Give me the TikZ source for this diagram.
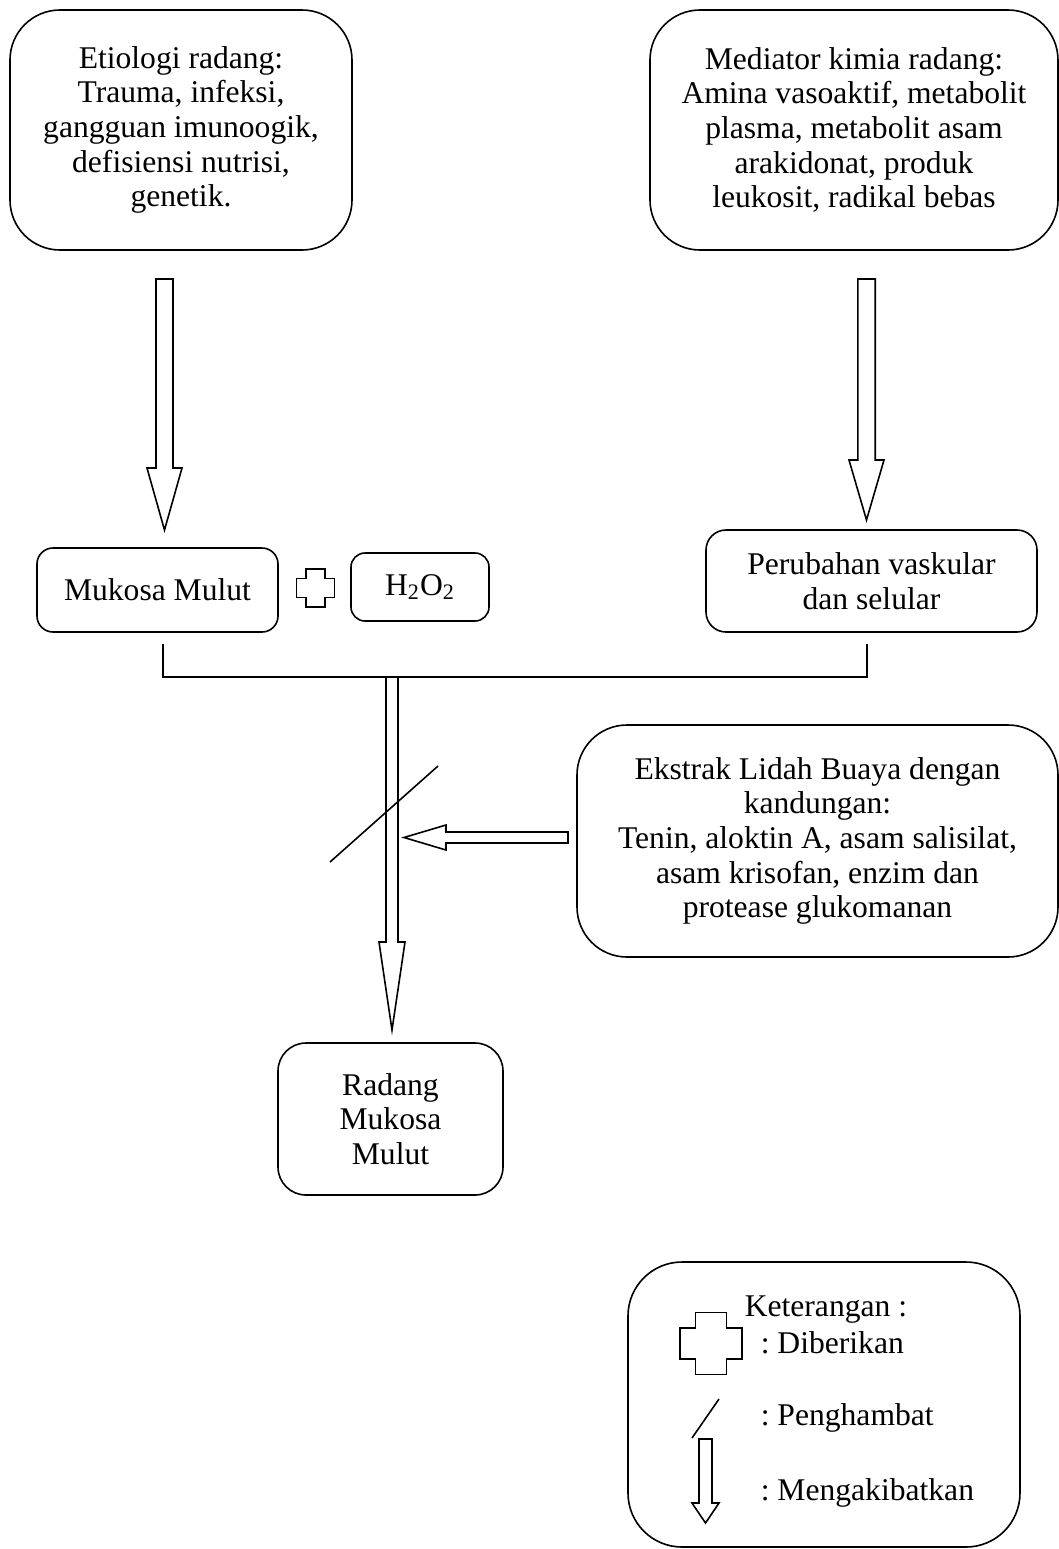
\documentclass[tikz,border=0pt]{standalone}
\usepackage{fontspec}
\setmainfont{Liberation Serif}
\frenchspacing
\tikzset{
  pics/fatarrow/.style n args={4}{code={
    \draw[fill=white] (-#2,0) -- (#2,0) -- (#2,#1-#4) -- (#3,#1-#4)
      -- (0,#1) -- (-#3,#1-#4) -- (-#2,#1-#4) -- cycle;
  }},
  pics/plusmark/.style 2 args={code={
    \draw (-#2,-#1) -- (#2,-#1) -- (#2,-#2) -- (#1,-#2) -- (#1,#2) -- (#2,#2)
      -- (#2,#1) -- (-#2,#1) -- (-#2,#2) -- (-#1,#2) -- (-#1,-#2) -- (-#2,-#2) -- cycle;
  }}
}
\begin{document}
\begin{tikzpicture}[x=0.5pt, y=-0.5pt, line width=0.8pt,
  roundbox/.style={draw, rounded corners=#1, inner sep=0pt, align=center,
    font=\fontsize{15.8}{17.3}\selectfont},
  roundbox/.default=25pt,
  keytext/.style={anchor=base west, inner sep=0pt,
    font=\fontsize{15.8}{17.3}\selectfont}]
  \useasboundingbox (0,0) rectangle (1059,1549);
  \node[roundbox, minimum width=171pt, minimum height=120pt] (etio) at (181,130)
    {Etiologi radang:\\Trauma, infeksi,\\gangguan imunoogik,\\defisiensi nutrisi,\\genetik.};
  \node[roundbox, minimum width=204pt, minimum height=120pt] (medi) at (854,130)
    {Mediator kimia radang:\\Amina vasoaktif, metabolit\\plasma, metabolit asam\\arakidonat, produk\\leukosit, radikal bebas};
  \pic at (164.5,279) {fatarrow={251}{8.5}{17.5}{62}};
  \pic at (866.5,279) {fatarrow={241}{8.7}{17.5}{60}};
  \node[roundbox=8pt, minimum width=120.5pt, minimum height=42pt] (muk) at (157.5,590)
    {Mukosa Mulut};
  \pic at (315.5,588) {plusmark={19}{9.5}};
  \node[roundbox=7pt, minimum width=69pt, minimum height=34pt] (hdua) at (420,587)
    {H\textsubscript{2}O\textsubscript{2}};
  \node[roundbox=10pt, minimum width=165.5pt, minimum height=51pt] (per) at (871.5,581)
    {Perubahan vaskular\\dan selular};
  \coordinate (jl) at (163,644);
  \coordinate (jr) at (867,644);
  \coordinate (join) at (392,677);
  \draw[line width=1pt] (jl) |- (join) -| (jr);
  \pic at (join) {fatarrow={353}{6}{13}{88}};
  \node[roundbox, minimum width=240.5pt, minimum height=116pt] (ekstrak) at (817.5,841)
    {Ekstrak Lidah Buaya dengan\\kandungan:\\Tenin, aloktin A, asam salisilat,\\asam krisofan, enzim dan\\protease glukomanan};
  \pic[rotate=-90] at (568,837.5) {fatarrow={164}{5.5}{12.5}{42}};
  \draw (330,862) -- (438,766);
  \node[roundbox=14pt, minimum width=112.5pt, minimum height=76pt] (radang) at (390.5,1119)
    {Radang\\Mukosa\\Mulut};
  \node[roundbox=27pt, minimum width=196pt, minimum height=142.5pt] (ket) at (824,1404.5) {};
  \pic at (711,1343.5) {plusmark={31}{15.5}};
  \node[keytext] (keta) at (744,1316) {Keterangan :};
  \node[keytext] (ketb) at (760,1353) {: Diberikan};
  \draw (692,1438) -- (719,1399);
  \node[keytext] (ketc) at (760,1425) {: Penghambat};
  \pic at (705.5,1439) {fatarrow={84}{6.5}{13.5}{20}};
  \node[keytext] (ketd) at (760,1500) {: Mengakibatkan};
\end{tikzpicture}
\end{document}
